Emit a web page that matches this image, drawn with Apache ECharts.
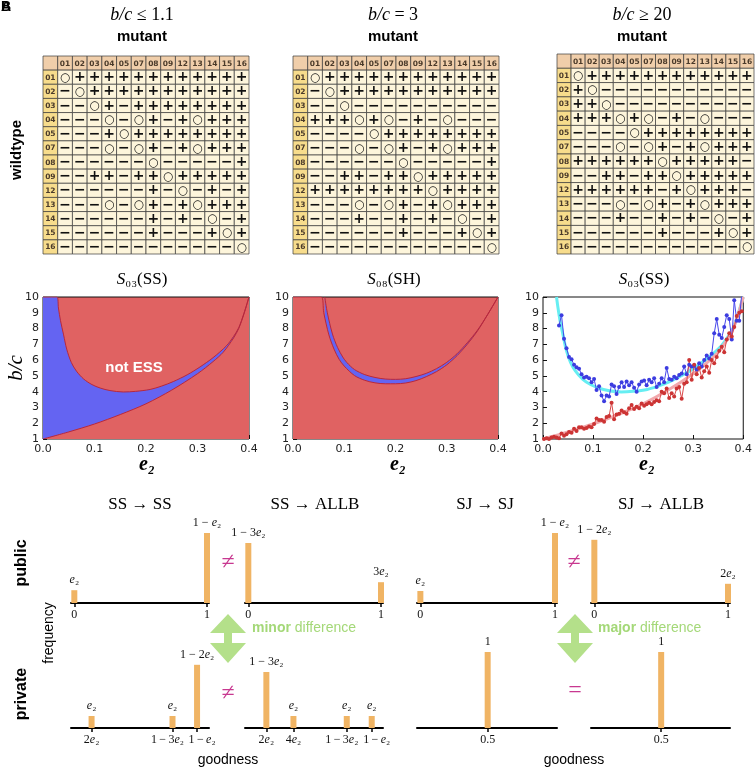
<!DOCTYPE html>
<html><head><meta charset="utf-8">
<script src="https://cdn.jsdelivr.net/npm/echarts@6/dist/echarts.min.js"></script>
<style>html,body{margin:0;padding:0;background:#fff}#c{width:755px;height:769px}</style>
</head><body><div id="c"></div>
<script>
// ---------- DATA ----------
const strategies = ['01','02','03','04','05','07','08','09','12','13','14','15','16'];
// 'o' = neutral, '+' = mutant wins, '-' = mutant loses
const table1Rows = [
  'o++++++++++++','-o+++++++++++','--o+-++++++++','---o-o+-+o+++','---+o++++++++',
  '---o-o+-+o+++','------o-----+','--++-++o+++++','------+-o-+-+','---o-o+-+o+++',
  '------+-+-o-+','------+---+o+','------------o'];
const table2Rows = [
  'o++++++++++++','-o+++++++++++','--o----------','+++o+o-+-o---','----o++++++++',
  '---o-o+-+o+++','------o-----+','--++-++o+++++','++++++++o++++','---o-o+-+o+++',
  '---+--+-+-o-+','------+---+o+','------------o'];
const table3Rows = [
  'o++++++++++++','+o-----------','++o----------','+++o+o-+-o---','----o++++++++',
  '---o-o+-+o+++','++++++o+++++-','--++-++o+++++','++++++-+o+++-','---o-o+-+o+++',
  '---+--+-+-o-+','------+---+o+','------------o'];

const ss03Lower = [[0,1],[0.05,1.45],[0.1,1.95],[0.15,2.55],[0.2,3.23],[0.25,4.1],[0.3,5.14],[0.33,5.9],[0.35,6.5],[0.37,7.4],[0.38,8.0],[0.39,8.9],[0.4,10]];
const ss03Upper = [[0.027,10],[0.03,9.3],[0.034,8.5],[0.04,7.6],[0.046,6.7],[0.055,5.85],[0.065,5.3],[0.079,4.8],[0.095,4.45],[0.111,4.23],[0.13,4.07],[0.156,3.98],[0.18,4.02],[0.208,4.14],[0.23,4.35],[0.253,4.64],[0.28,5.07],[0.305,5.57],[0.33,6.15],[0.356,6.9],[0.37,7.5],[0.38,8.05],[0.39,8.95],[0.4,10]];
// S08(SH): inner (upper) and outer (lower) boundary of the thin ESS band
const sh08Upper = [[0.062,10],[0.067,9.0],[0.077,7.65],[0.087,6.8],[0.097,6.2],[0.105,5.85],[0.12,5.4],[0.14,5.08],[0.16,4.9],[0.18,4.8],[0.2,4.78],[0.22,4.82],[0.24,4.96],[0.26,5.16],[0.28,5.46],[0.3,5.86],[0.32,6.4],[0.34,7.1],[0.36,7.9],[0.38,8.9],[0.4,10]];
const sh08Lower = [[0,10],[0.055,10],[0.06,9.0],[0.07,7.6],[0.08,6.7],[0.09,6.05],[0.1,5.62],[0.12,5.02],[0.14,4.72],[0.16,4.56],[0.18,4.5],[0.2,4.5],[0.22,4.55],[0.24,4.7],[0.26,4.95],[0.28,5.27],[0.3,5.7],[0.32,6.28],[0.34,7.0],[0.36,7.85],[0.38,8.9],[0.4,10]];

const simBlue = [[0.032,8.2],[0.037,8.85],[0.042,7.35],[0.047,6.75],[0.052,6.2],[0.057,6.05],[0.062,5.7],[0.067,5.55],[0.072,5.45],[0.077,5.1],[0.082,4.9],[0.087,4.95],[0.092,4.85],[0.097,4.6],[0.102,4.8],[0.107,4.1],[0.112,4.35],[0.117,3.75],[0.122,3.4],[0.127,3.75],[0.132,3.7],[0.137,4.45],[0.142,4.35],[0.147,3.85],[0.152,4.3],[0.157,4.6],[0.162,4.3],[0.167,4.65],[0.172,4.4],[0.177,4.6],[0.182,4.25],[0.187,4.0],[0.192,4.45],[0.197,4.65],[0.202,4.7],[0.207,4.4],[0.212,4.75],[0.217,4.6],[0.222,4.85],[0.227,4.3],[0.232,4.5],[0.237,4.85],[0.242,4.6],[0.247,5.5],[0.252,4.8],[0.257,4.75],[0.262,4.95],[0.267,4.85],[0.272,5.05],[0.277,5.15],[0.282,5.6],[0.287,5.1],[0.292,5.7],[0.297,5.6],[0.302,5.65],[0.307,5.4],[0.312,5.8],[0.317,5.6],[0.322,6.0],[0.327,6.3],[0.332,6.1],[0.337,6.4],[0.342,7.7],[0.347,8.6],[0.352,7.6],[0.357,7.4],[0.362,8.1],[0.367,8.85],[0.372,8.6],[0.377,7.3],[0.382,9.8],[0.387,8.5],[0.392,8.5],[0.397,10.2]];
const simRed = [[0.002,1.0],[0.007,1.05],[0.012,1.0],[0.017,1.1],[0.022,1.15],[0.027,1.1],[0.032,1.05],[0.037,1.35],[0.042,1.2],[0.047,1.3],[0.052,1.45],[0.057,1.4],[0.062,1.65],[0.067,1.5],[0.072,1.75],[0.077,1.75],[0.082,1.65],[0.087,1.7],[0.092,1.8],[0.097,1.75],[0.102,1.95],[0.107,2.3],[0.112,2.2],[0.117,2.2],[0.122,2.1],[0.127,2.4],[0.132,2.45],[0.137,3.3],[0.142,2.25],[0.147,2.55],[0.152,2.6],[0.157,2.8],[0.162,2.7],[0.167,2.6],[0.172,2.95],[0.177,3.15],[0.182,2.9],[0.187,3.05],[0.192,2.95],[0.197,3.25],[0.202,3.1],[0.207,3.2],[0.212,3.3],[0.217,3.2],[0.222,3.35],[0.227,3.45],[0.232,3.4],[0.237,4.0],[0.242,3.9],[0.247,4.2],[0.252,3.6],[0.257,3.9],[0.262,3.7],[0.267,4.2],[0.272,4.3],[0.277,3.55],[0.282,4.5],[0.287,4.6],[0.292,6.0],[0.297,4.75],[0.302,5.7],[0.307,5.1],[0.312,5.5],[0.317,4.9],[0.322,5.3],[0.327,5.6],[0.332,5.2],[0.337,6.0],[0.342,5.8],[0.347,6.2],[0.352,6.6],[0.357,6.85],[0.362,6.5],[0.367,7.3],[0.372,7.7],[0.377,7.5],[0.382,8.1],[0.387,8.8],[0.392,9.0],[0.397,9.1]];

// goodness histograms (frequency, schematic units)
const pubSsSsX = [0, 1],       pubSsSsF = [0.16, 0.875], pubSsSsLab = ['{i|e}₂', '1 − {i|e}₂'];
const pubSsAlX = [0, 1],       pubSsAlF = [0.75, 0.26],  pubSsAlLab = ['1 − 3{i|e}₂', '3{i|e}₂'];
const pubSjSjX = [0, 1],       pubSjSjF = [0.15, 0.875], pubSjSjLab = ['{i|e}₂', '1 − {i|e}₂'];
const pubSjAlX = [0, 1],       pubSjAlF = [0.79, 0.24],  pubSjAlLab = ['1 − 2{i|e}₂', '2{i|e}₂'];
const pubTicks = [0, 1],       pubTickLab = ['0', '1'];
const prvSsSsX = [0.13, 0.74, 0.925], prvSsSsF = [0.15, 0.15, 0.79], prvSsSsLab = ['{i|e}₂', '{i|e}₂', '1 − 2{i|e}₂'];
const prvSsSsTickLab = ['2{i|e}₂', '1 − 3{i|e}₂', '1 − {i|e}₂'];
const prvSsAlX = [0.136, 0.34, 0.742, 0.93], prvSsAlF = [0.7, 0.15, 0.15, 0.15], prvSsAlLab = ['1 − 3{i|e}₂', '{i|e}₂', '{i|e}₂', '{i|e}₂'];
const prvSsAlTickLab = ['2{i|e}₂', '4{i|e}₂', '1 − 3{i|e}₂', '1 − {i|e}₂'];
const prvSjX = [0.5], prvSjF = [0.95], prvSjLab = ['1'], prvSjTickLab = ['0.5'];

// ---------- STYLE ----------
const SERIF = 'Liberation Serif', SANS = 'Liberation Sans', MPL = 'DejaVu Sans';
const BLUE = '#6464F2', RED = '#E06262', EDGE = '#B8283C', ORANGE = '#F0B464', GREEN = '#B4E08A', GREENTXT = '#A4D878', MAG = '#C83890';
const richI = { i: { fontStyle: 'italic', fontFamily: SERIF, fontSize: 12 }, sp: { width: 1, fontSize: 12 } };
// horizontal nudges (px) of crowded tick labels: negative = left, positive = right
const prvSsSsNudge = [0, -5, 5], prvSsAlNudge = [0, 0, -5, 5];

const grids = [], xAxes = [], yAxes = [], series = [];
function addGrid(g, xa, ya) {
  const gi = grids.length; grids.push(Object.assign({ containLabel: false }, g));
  xa.gridIndex = gi; ya.gridIndex = gi;
  const xi = xAxes.length, yi = yAxes.length;
  xAxes.push(xa); yAxes.push(ya);
  return { gi, xi, yi };
}

// ---------- TABLES ----------
const cellColors = { corner: '#F0CEAA', col: '#F0CEAA', row: '#F7DC8C', body: '#FDF5DB' };
function makeTable(rows, g) {
  const a = addGrid(g,
    { type: 'category', data: ['', ...strategies], show: false },
    { type: 'category', data: ['', ...strategies], show: false, inverse: true });
  const items = [];
  items.push({ value: [0, 0], kind: 'corner', t: '' });
  strategies.forEach((s, i) => { items.push({ value: [i + 1, 0], kind: 'col', t: s }); items.push({ value: [0, i + 1], kind: 'row', t: s }); });
  rows.forEach((r, yi) => r.split('').forEach((ch, xi) => items.push({ value: [xi + 1, yi + 1], kind: 'body', t: ch })));
  series.push({
    type: 'custom', xAxisIndex: a.xi, yAxisIndex: a.yi, silent: true,
    data: items.map(d => d.value),
    renderItem: (p, api) => {
      const d = items[p.dataIndex];
      const c = api.coord([api.value(0), api.value(1)]);
      const s = api.size([1, 1]);
      let txt = d.t, font = 'bold 14px ' + MPL, fill = '#111', dy = 0.5;
      if (d.kind === 'body') {
        if (d.t === '-') { txt = '−'; }
        else if (d.t === 'o') { txt = '○'; font = '12px ' + MPL; }
      } else { font = 'bold 7.5px ' + MPL; fill = '#4a3a2a'; }
      return { type: 'group', children: [
        { type: 'rect', shape: { x: c[0] - s[0] / 2, y: c[1] - s[1] / 2, width: s[0], height: s[1] },
          style: { fill: cellColors[d.kind], stroke: '#3a3a3a', lineWidth: 0.7 } },
        { type: 'text', style: { text: txt, x: c[0], y: c[1] + dy, align: 'center', verticalAlign: 'middle', font: font, fill: fill } }
      ] };
    }
  });
}
makeTable(table1Rows, { left: 43, top: 56, width: 206, height: 198 });
makeTable(table2Rows, { left: 293, top: 56, width: 206, height: 198 });
makeTable(table3Rows, { left: 557, top: 54, width: 197, height: 200 });

// ---------- REGION PLOTS ----------
function plotAxes(g, bg) {
  return addGrid(Object.assign({ show: true, borderColor: '#111', borderWidth: 1, backgroundColor: bg || 'transparent' }, g),
    { type: 'value', min: 0, max: 0.4, interval: 0.1, axisLine: { show: false }, splitLine: { show: false },
      axisTick: { inside: true, length: 4, lineStyle: { color: '#111' } },
      axisLabel: { formatter: v => v.toFixed(1), fontFamily: MPL, fontSize: 11, color: '#222', margin: 5 } },
    { type: 'value', min: 1, max: 10, interval: 1, axisLine: { show: false }, splitLine: { show: false },
      axisTick: { inside: true, length: 4, lineStyle: { color: '#111' } },
      axisLabel: { fontFamily: MPL, fontSize: 11, color: '#222', margin: 4 } });
}
function areaLine(a, data, fill) {
  series.push({ type: 'line', xAxisIndex: a.xi, yAxisIndex: a.yi, data, symbol: 'none', smooth: 0.3, silent: true,
    lineStyle: { color: EDGE, width: 1 }, areaStyle: { color: fill, opacity: 1, origin: 'start' } });
}
const p1 = plotAxes({ left: 43, top: 297, width: 206, height: 142 }, RED);
areaLine(p1, [[0, 10], ...ss03Upper], BLUE);
areaLine(p1, ss03Lower, RED);
const p2 = plotAxes({ left: 293, top: 297, width: 205, height: 142 }, RED);
areaLine(p2, sh08Upper, BLUE);
areaLine(p2, sh08Lower, RED);
const p3 = plotAxes({ left: 543, top: 297, width: 205, height: 142 }, '#fff');
series.push({ type: 'line', xAxisIndex: p3.xi, yAxisIndex: p3.yi, data: ss03Upper, symbol: 'none', smooth: 0.3, lineStyle: { color: '#66EEF2', width: 3 } });
series.push({ type: 'line', xAxisIndex: p3.xi, yAxisIndex: p3.yi, data: ss03Lower, symbol: 'none', smooth: 0.3, lineStyle: { color: '#F2A8AC', width: 3 } });
series.push({ type: 'line', xAxisIndex: p3.xi, yAxisIndex: p3.yi, data: simBlue, symbol: 'circle', symbolSize: 4, lineStyle: { color: '#4848EC', width: 1 }, itemStyle: { color: '#3C3CE0' } });
series.push({ type: 'line', xAxisIndex: p3.xi, yAxisIndex: p3.yi, data: simRed, symbol: 'circle', symbolSize: 4, lineStyle: { color: '#DA4848', width: 1 }, itemStyle: { color: '#CC3434' } });

// ---------- HISTOGRAMS ----------
function tight(s) { return s.replace(/ − /g, '\u2009−\u2009'); }
function nudged(s, n) {
  if (!n) return s;
  const pad = '{sp|}'.replace('{sp|}', '{sp| }');
  const padTok = `{w${Math.abs(n) * 2}| }`;
  return n < 0 ? s + padTok : padTok + s;
}
function labelAxis(gi, vals, labs, nudges, withLineAndTicks, allTicks) {
  const rich = Object.assign({}, richI);
  nudges.forEach(n => { if (n) rich['w' + Math.abs(n) * 2] = { width: Math.abs(n) * 2, fontSize: 12 }; });
  return { type: 'value', gridIndex: gi, position: 'bottom', min: -0.025, max: 1.015, splitLine: { show: false },
    axisLine: { show: withLineAndTicks, onZero: false, lineStyle: { color: '#000', width: 2 } },
    axisTick: { show: withLineAndTicks, customValues: allTicks, length: 4, lineStyle: { color: '#000', width: 1.5 } },
    axisLabel: { show: vals.length > 0, customValues: vals, hideOverlap: false,
      formatter: v => { const k = vals.findIndex(t => Math.abs(t - v) < 1e-6); return k >= 0 ? nudged(tight(labs[k]), nudges[k]) : ''; },
      fontFamily: SERIF, fontSize: 12, color: '#111', margin: 6, rich } };
}
function hist(g, xs, fs, labs, ticks, tickLabs, nudges) {
  nudges = nudges || ticks.map(() => 0);
  // alternate tick labels over two axes of the same grid so that neighbouring labels are all kept
  const ev = (_, i) => i % 2 === 0, od = (_, i) => i % 2 === 1;
  const gi = grids.length;
  const a = addGrid(g, labelAxis(gi, ticks.filter(ev), tickLabs.filter(ev), nudges.filter(ev), true, ticks), { type: 'value', min: 0, max: 1, show: false });
  if (ticks.length > 1) xAxes.push(labelAxis(gi, ticks.filter(od), tickLabs.filter(od), nudges.filter(od), false, ticks));
  series.push({ type: 'bar', xAxisIndex: a.xi, yAxisIndex: a.yi, barWidth: 6, silent: true,
    data: xs.map((x, i) => [x, fs[i]]), itemStyle: { color: ORANGE },
    label: { show: true, position: 'top', distance: 4, formatter: p => labs[p.dataIndex], fontFamily: SERIF, fontSize: 12, color: '#111', rich: richI } });
}
hist({ left: 71, top: 523, width: 138, height: 80 }, pubSsSsX, pubSsSsF, pubSsSsLab, pubTicks, pubTickLab);
hist({ left: 245, top: 523, width: 138, height: 80 }, pubSsAlX, pubSsAlF, pubSsAlLab, pubTicks, pubTickLab);
hist({ left: 417, top: 523, width: 140, height: 80 }, pubSjSjX, pubSjSjF, pubSjSjLab, pubTicks, pubTickLab);
hist({ left: 591, top: 523, width: 139, height: 80 }, pubSjAlX, pubSjAlF, pubSjAlLab, pubTicks, pubTickLab);
hist({ left: 71, top: 648, width: 138, height: 80 }, prvSsSsX, prvSsSsF, prvSsSsLab, prvSsSsX, prvSsSsTickLab, prvSsSsNudge);
hist({ left: 245, top: 648, width: 138, height: 80 }, prvSsAlX, prvSsAlF, prvSsAlLab, prvSsAlX, prvSsAlTickLab, prvSsAlNudge);
hist({ left: 417, top: 648, width: 140, height: 80 }, prvSjX, prvSjF, prvSjLab, prvSjX, prvSjTickLab);
hist({ left: 591, top: 648, width: 139, height: 80 }, prvSjX, prvSjF, prvSjLab, prvSjX, prvSjTickLab);

// ---------- TEXT / ANNOTATIONS ----------
function T(x, y, text, font, extra) {
  return Object.assign({ type: 'text', x, y, silent: true, style: Object.assign({ text, align: 'center', verticalAlign: 'middle', font, fill: '#000' }, (extra && extra.style) || {}) },
    extra && extra.rotation ? { rotation: extra.rotation } : {});
}
const richBig = { i: { fontStyle: 'italic', fontFamily: SERIF, fontSize: 18 } };
const richT = { i: { fontStyle: 'italic', fontFamily: SERIF, fontSize: 17 } };
function arrow(cx) {
  return { type: 'polygon', silent: true, shape: { points: [
    [cx, 614], [cx + 18, 633], [cx + 4, 633], [cx + 4, 643], [cx + 18, 643], [cx, 663],
    [cx - 18, 643], [cx - 4, 643], [cx - 4, 633], [cx - 18, 633]] }, style: { fill: GREEN } };
}
const graphics = [
  T(6, 7, 'A', 'bold 14px ' + SANS), T(6, 7, 'B', 'bold 14px ' + SANS),
  T(142, 15, '{i|b/c} ≤ 1.1', '18px ' + SERIF, { style: { rich: richBig } }),
  T(393, 15, '{i|b/c} = 3', '18px ' + SERIF, { style: { rich: richBig } }),
  T(642, 15, '{i|b/c} ≥ 20', '18px ' + SERIF, { style: { rich: richBig } }),
  T(142, 37, 'mutant', 'bold 15px ' + SANS), T(393, 37, 'mutant', 'bold 15px ' + SANS), T(642, 37, 'mutant', 'bold 15px ' + SANS),
  T(17, 150, 'wildtype', 'bold 15px ' + SANS, { rotation: Math.PI / 2 }),
  T(142, 280, '{i|S}₀₃(SS)', '17px ' + SERIF, { style: { rich: richT } }),
  T(394, 280, '{i|S}₀₈(SH)', '17px ' + SERIF, { style: { rich: richT } }),
  T(644, 280, '{i|S}₀₃(SS)', '17px ' + SERIF, { style: { rich: richT } }),
  T(16, 368, 'b/c', 'italic 21px ' + SERIF, { rotation: Math.PI / 2 }),
  T(147, 465, 'e₂', 'italic bold 20px ' + SERIF), T(398, 465, 'e₂', 'italic bold 20px ' + SERIF), T(647, 465, 'e₂', 'italic bold 20px ' + SERIF),
  T(134, 368, 'not ESS', 'bold 15px ' + SANS, { style: { fill: '#fff' } }),
  T(82, 404, 'ESS', 'bold 15px ' + SANS, { style: { fill: '#fff' } }),
  T(140, 505, 'SS → SS', '17px ' + SERIF), T(315, 505, 'SS → ALLB', '17px ' + SERIF),
  T(485, 505, 'SJ → SJ', '17px ' + SERIF), T(661, 505, 'SJ → ALLB', '17px ' + SERIF),
  T(22, 563, 'public', 'bold 16px ' + SANS, { rotation: Math.PI / 2 }),
  T(22, 694, 'private', 'bold 16px ' + SANS, { rotation: Math.PI / 2 }),
  T(49, 633, 'frequency', '14px ' + SANS, { rotation: Math.PI / 2 }),
  T(228, 760, 'goodness', '14px ' + SANS), T(574, 760, 'goodness', '14px ' + SANS),
  arrow(228), arrow(575),
  T(252, 628, '{b|minor} difference', '14px ' + SANS, { style: { align: 'left', fill: GREENTXT, rich: { b: { fontWeight: 'bold', fontFamily: SANS, fontSize: 14, color: GREENTXT } } } }),
  T(598, 628, '{b|major} difference', '14px ' + SANS, { style: { align: 'left', fill: GREENTXT, rich: { b: { fontWeight: 'bold', fontFamily: SANS, fontSize: 14, color: GREENTXT } } } }),
  T(228, 563, '≠', '24px ' + SERIF, { style: { fill: MAG } }),
  T(228, 694, '≠', '24px ' + SERIF, { style: { fill: MAG } }),
  T(574, 563, '≠', '24px ' + SERIF, { style: { fill: MAG } }),
  T(575, 691, '=', '24px ' + SERIF, { style: { fill: MAG } })
];

const chart = echarts.init(document.getElementById('c'), null, { renderer: 'canvas' });
chart.setOption({ animation: false, backgroundColor: '#fff', grid: grids, xAxis: xAxes, yAxis: yAxes, series, graphic: graphics });
</script></body></html>
